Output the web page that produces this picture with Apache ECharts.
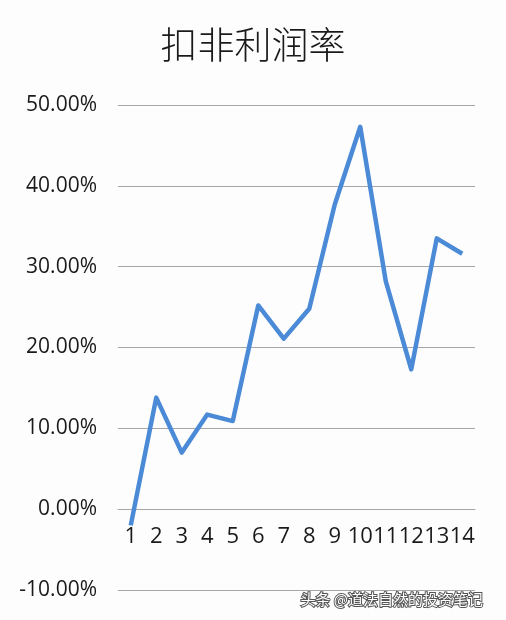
<!DOCTYPE html>
<html><head><meta charset="utf-8">
<script src="https://cdn.jsdelivr.net/npm/echarts@6/dist/echarts.min.js"></script>
<style>html,body{margin:0;padding:0;background:#fdfdfe;}#c{width:506px;height:620px;}</style>
</head><body><div id="c"></div>
<script>
const title = '扣非利润率';
const categories = ['1','2','3','4','5','6','7','8','9','10','11','12','13','14'];
const values = [-0.020, 0.138, 0.070, 0.117, 0.109, 0.252, 0.211, 0.248, 0.377, 0.473, 0.282, 0.173, 0.335, 0.316];
const watermark = '头条 @道法自然的投资笔记';

const chart = echarts.init(document.getElementById('c'));
chart.setOption({
  backgroundColor: '#fdfdfe',
  animation: false,
  title: {
    text: title, left: 'center', top: 21,
    textStyle: {fontFamily: 'Noto Sans CJK SC', fontWeight: 300, fontSize: 37, color: '#1a1a1a'}
  },
  grid: {left: 118, right: 31, top: 105, bottom: 30},
  xAxis: {
    type: 'category', data: categories, boundaryGap: true,
    axisLine: {show: true, onZero: true, lineStyle: {color: '#a6a6a6', width: 1}},
    axisTick: {show: false},
    axisLabel: {color: '#1a1a1a', fontSize: 22, fontFamily: 'Open Sans', margin: 15, interval: 0,
      hideOverlap: false}
  },
  yAxis: {
    type: 'value', min: -0.1, max: 0.5, interval: 0.1,
    axisLine: {show: false}, axisTick: {show: false},
    splitLine: {lineStyle: {color: '#a6a6a6', width: 1}},
    axisLabel: {color: '#1a1a1a', fontSize: 21, fontFamily: 'Open Sans', margin: 21,
      formatter: v => (v * 100).toFixed(2) + '%'}
  },
  series: [{
    type: 'line', data: values, symbol: 'none', z: 1,
    lineStyle: {color: '#4a8ad6', width: 4.5, join: 'round'}
  }],
  graphic: [{
    type: 'text', right: 22, bottom: 12,
    style: {text: watermark, fontSize: 15, fontFamily: 'Noto Sans CJK SC', fill: '#fff',
      stroke: '#555', lineWidth: 2}
  }]
});
// place the category axis on the zero line, using the value axis scale
const y0 = chart.convertToPixel({yAxisIndex: 0}, 0);
const yMin = chart.convertToPixel({yAxisIndex: 0}, -0.1);
chart.setOption({xAxis: {offset: y0 - yMin}});
</script></body></html>
